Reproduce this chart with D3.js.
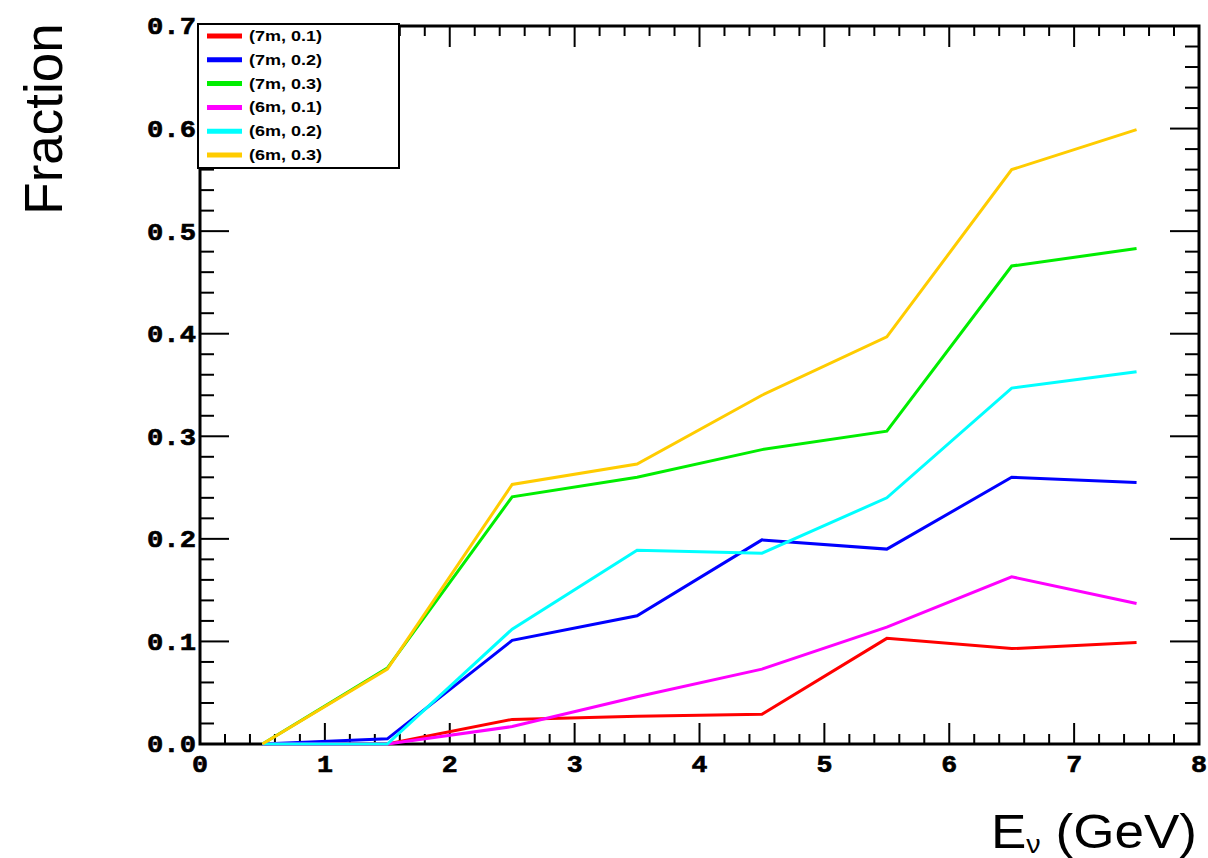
<!DOCTYPE html>
<html><head><meta charset="utf-8">
<script src="https://cdn.jsdelivr.net/npm/d3@7"></script>
<style>body{margin:0;background:#fff}svg{display:block}</style>
</head><body>
<script>
const energies = [0.5, 1.5, 2.5, 3.5, 4.5, 5.5, 6.5, 7.5];
const seriesNames = ["(7m, 0.1)", "(7m, 0.2)", "(7m, 0.3)", "(6m, 0.1)", "(6m, 0.2)", "(6m, 0.3)"];
const seriesColors = ["#ff0000", "#0000ff", "#00ee00", "#ff00ff", "#00ffff", "#ffcc00"];
const s7m01 = [0, 0, 0.024, 0.027, 0.029, 0.103, 0.093, 0.099];
const s7m02 = [0, 0.005, 0.101, 0.125, 0.199, 0.190, 0.260, 0.255];
const s7m03 = [0, 0.074, 0.241, 0.260, 0.287, 0.305, 0.466, 0.483];
const s6m01 = [0, 0, 0.017, 0.046, 0.073, 0.114, 0.163, 0.137];
const s6m02 = [0, 0, 0.112, 0.189, 0.186, 0.240, 0.347, 0.363];
const s6m03 = [0, 0.073, 0.253, 0.273, 0.340, 0.397, 0.560, 0.599];
const seriesValues = [s7m01, s7m02, s7m03, s6m01, s6m02, s6m03];
const xTickLabels = ["0","1","2","3","4","5","6","7","8"];
const yTickLabels = ["0.0","0.1","0.2","0.3","0.4","0.5","0.6","0.7"];

const W = 1208, H = 858;
const L = 200, R = 1199, T = 26, B = 744;
const svg = d3.select("body").append("svg").attr("width", W).attr("height", H);
svg.append("rect").attr("width", W).attr("height", H).attr("fill", "#fff");

const x = d3.scaleLinear().domain([0, 8]).range([L, R]);
const y = d3.scaleLinear().domain([0, 0.7]).range([B, T]);

// ticks
const xMinor = d3.range(0, 40).map(i => i * 0.2).filter(v => Math.abs(v - Math.round(v)) > 1e-6);
const yMinor = d3.range(0, 35).map(i => i * 0.02).filter(v => Math.abs(v*10 - Math.round(v*10)) > 1e-6);
const g = svg.append("g").attr("stroke", "#000").attr("stroke-width", 2);
xTickLabels.forEach((t, i) => {
  const v = +t;
  g.append("line").attr("x1", x(v)).attr("x2", x(v)).attr("y1", B).attr("y2", B - 21);
  g.append("line").attr("x1", x(v)).attr("x2", x(v)).attr("y1", T).attr("y2", T + 21);
});
xMinor.forEach(v => {
  g.append("line").attr("x1", x(v)).attr("x2", x(v)).attr("y1", B).attr("y2", B - 10);
  g.append("line").attr("x1", x(v)).attr("x2", x(v)).attr("y1", T).attr("y2", T + 10);
});
yTickLabels.forEach(t => {
  const v = +t;
  g.append("line").attr("y1", y(v)).attr("y2", y(v)).attr("x1", L).attr("x2", L + 29);
  g.append("line").attr("y1", y(v)).attr("y2", y(v)).attr("x1", R).attr("x2", R - 29);
});
yMinor.forEach(v => {
  g.append("line").attr("y1", y(v)).attr("y2", y(v)).attr("x1", L).attr("x2", L + 14);
  g.append("line").attr("y1", y(v)).attr("y2", y(v)).attr("x1", R).attr("x2", R - 14);
});

// frame
svg.append("rect").attr("x", L).attr("y", T).attr("width", R - L).attr("height", B - T)
  .attr("fill", "none").attr("stroke", "#000").attr("stroke-width", 3);

// tick labels
const lblFont = "'Liberation Mono', 'DejaVu Sans Mono', monospace";
svg.append("g").selectAll("text").data(xTickLabels).join("text")
  .attr("x", d => x(+d)).attr("y", 772).attr("text-anchor", "middle")
  .attr("font-family", lblFont).attr("font-weight", "bold").attr("font-size", 24)
  .attr("stroke", "#000").attr("stroke-width", 0.6)
  .attr("textLength", 16).attr("lengthAdjust", "spacingAndGlyphs")
  .text(d => d);
svg.append("g").selectAll("text").data(yTickLabels).join("text")
  .attr("x", 196).attr("y", d => y(+d)).attr("dy", "0.35em").attr("text-anchor", "end")
  .attr("font-family", lblFont).attr("font-weight", "bold").attr("font-size", 24)
  .attr("stroke", "#000").attr("stroke-width", 0.6)
  .attr("textLength", 49).attr("lengthAdjust", "spacingAndGlyphs")
  .text(d => d);

// lines
const line = d3.line().x((d, i) => x(energies[i])).y(d => y(d));
seriesValues.forEach((vals, k) => {
  svg.append("path").datum(vals).attr("d", line).attr("fill", "none")
    .attr("stroke", seriesColors[k]).attr("stroke-width", 3).attr("stroke-linejoin", "miter");
});

// legend
const lg = svg.append("g");
lg.append("rect").attr("x", 198).attr("y", 24).attr("width", 201).attr("height", 144)
  .attr("fill", "#fff").attr("stroke", "#000").attr("stroke-width", 2);
seriesNames.forEach((n, k) => {
  const yy = 36 + k * 23.8;
  lg.append("line").attr("x1", 207).attr("x2", 242).attr("y1", yy).attr("y2", yy)
    .attr("stroke", seriesColors[k]).attr("stroke-width", 5);
  lg.append("text").attr("x", 249).attr("y", yy).attr("dy", "0.36em")
    .attr("font-family", "'Liberation Sans', Arial, sans-serif").attr("font-weight", "bold")
    .attr("font-size", 14).attr("textLength", 73).attr("lengthAdjust", "spacingAndGlyphs").text(n);
});

// axis titles
svg.append("text").attr("transform", "translate(62,119) rotate(-90)")
  .attr("text-anchor", "middle").attr("font-family", "'Liberation Sans', Arial, sans-serif")
  .attr("font-size", 53).text("Fraction");
const xt = svg.append("text").attr("x", 1197).attr("y", 848).attr("text-anchor", "end")
  .attr("font-family", "'Liberation Sans', Arial, sans-serif").attr("font-size", 48)
  .attr("textLength", 206).attr("lengthAdjust", "spacingAndGlyphs");
xt.append("tspan").text("E");
xt.append("tspan").attr("dy", 5).attr("font-size", 26).text("ν");
xt.append("tspan").attr("dy", -5).text(" (GeV)");
</script>
</body></html>
